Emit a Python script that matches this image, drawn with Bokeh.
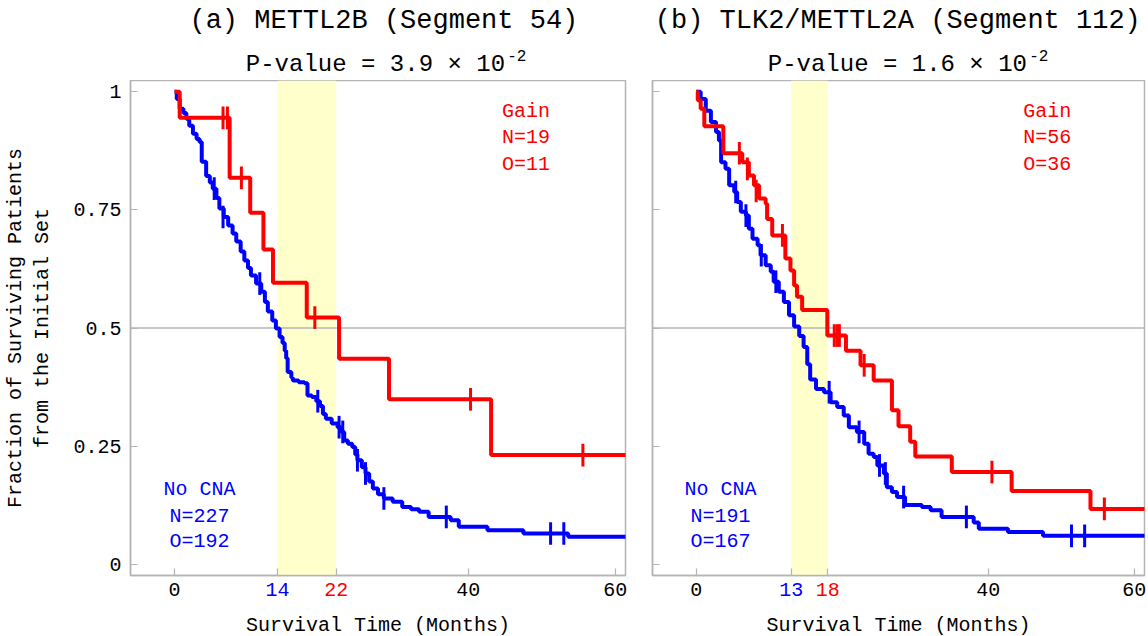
from bokeh.plotting import figure
from bokeh.layouts import row, column
from bokeh.models import Span, BoxAnnotation, FixedTicker
from bokeh.core.properties import value
from bokeh.embed import file_html
from bokeh.resources import INLINE

FONT = "Liberation Mono"
RED = "#ff0000"
BLUE = "#0000ff"
GRAY = "#b4b4b4"

# ---------------- Panel (a) METTL2B (Segment 54) ----------------
a_title = "(a) METTL2B (Segment 54)"
a_pvalue = "P-value = 3.9 × 10"
a_pexp = "-2"
a_band = [14, 22]
a_gain_text = ["Gain", "N=19", "O=11"]
a_nocna_text = ["No CNA", "N=227", "O=192"]

a_gain_t = [0, 0.7, 7.5, 10.3, 12.1, 13.4, 18.0, 22.4, 29.2, 43.1, 62]
a_gain_s = [1.0, 0.945, 0.818, 0.744, 0.666, 0.596, 0.522, 0.435, 0.349, 0.231, 0.231]
a_gain_cens_t = [6.6, 7.2, 9.1, 19.1, 40.3, 55.6]
a_gain_cens_s = [0.945, 0.945, 0.818, 0.522, 0.349, 0.231]

a_none_t = [0, 0.3, 0.7, 1.2, 1.6, 2.0, 2.5, 3.0, 3.4, 3.7, 4.3, 4.8, 5.2, 5.7, 6.1,
            6.7, 7.3, 7.9, 8.4, 9.0, 9.5, 10.0, 10.4, 11.1, 11.8, 12.3, 12.7, 13.3,
            13.8, 14.3, 14.7, 15.0, 15.2, 15.4, 15.9, 16.1, 16.9, 17.7, 18.1, 18.7,
            19.3, 19.8, 20.2, 20.6, 21.4, 22.2, 22.7, 23.1, 23.6, 24.2, 24.6, 24.9,
            25.5, 26.0, 26.5, 27.0, 27.7, 28.5, 29.7, 31.0, 32.2, 33.3, 34.6, 37.6,
            38.7, 42.6, 47.5, 53.6, 62]
a_none_s = [1.0, 0.985, 0.964, 0.955, 0.943, 0.928, 0.911, 0.900, 0.894, 0.852, 0.822,
            0.808, 0.795, 0.775, 0.753, 0.735, 0.717, 0.700, 0.683, 0.662, 0.643, 0.627,
            0.611, 0.594, 0.577, 0.555, 0.535, 0.516, 0.499, 0.481, 0.468, 0.452, 0.436,
            0.407, 0.395, 0.389, 0.385, 0.383, 0.357, 0.354, 0.345, 0.335, 0.318, 0.308,
            0.298, 0.290, 0.280, 0.262, 0.255, 0.248, 0.232, 0.220, 0.205, 0.192, 0.175,
            0.160, 0.148, 0.139, 0.132, 0.121, 0.116, 0.111, 0.100, 0.093, 0.079, 0.072,
            0.065, 0.058, 0.058]
a_none_cens_t = [5.4, 6.6, 11.6, 19.5, 22.4, 22.9, 24.9, 26.0, 28.5, 37.0, 51.2, 53.0]
a_none_cens_s = [0.795, 0.735, 0.594, 0.345, 0.290, 0.280, 0.220, 0.192, 0.139, 0.100, 0.065, 0.065]

# ---------------- Panel (b) TLK2/METTL2A (Segment 112) ----------------
b_title = "(b) TLK2/METTL2A (Segment 112)"
b_pvalue = "P-value = 1.6 × 10"
b_pexp = "-2"
b_band = [13, 18]
b_gain_text = ["Gain", "N=56", "O=36"]
b_nocna_text = ["No CNA", "N=191", "O=167"]

b_gain_t = [0, 0.2, 0.6, 1.1, 3.7, 6.3, 7.2, 7.9, 8.6, 9.5, 9.7, 10.4, 12.2, 12.9, 13.4,
            13.8, 14.5, 17.95, 20.5, 22.5, 24.3, 26.8, 27.7, 29.3, 30.0, 35.0, 43.2, 54.0, 62]
b_gain_s = [1.0, 0.982, 0.964, 0.927, 0.870, 0.851, 0.823, 0.802, 0.774, 0.763, 0.731,
            0.696, 0.647, 0.622, 0.590, 0.566, 0.538, 0.484, 0.452, 0.421, 0.389, 0.326,
            0.292, 0.259, 0.228, 0.195, 0.155, 0.117, 0.117]
b_gain_cens_t = [5.9, 7.0, 8.2, 11.8, 18.9, 19.3, 19.6, 23.0, 40.5, 55.9]
b_gain_cens_s = [0.870, 0.837, 0.790, 0.696, 0.484, 0.484, 0.484, 0.421, 0.195, 0.117]

b_none_t = [0, 0.6, 1.3, 2.0, 2.7, 3.1, 3.4, 4.0, 4.5, 5.2, 5.6, 6.1, 6.8, 7.2, 7.7, 8.4,
            8.8, 9.5, 10.2, 10.6, 11.3, 12.0, 12.7, 13.4, 14.1, 14.7, 15.2, 15.6, 16.4,
            17.5, 18.4, 19.3, 20.2, 20.9, 22.0, 23.0, 23.6, 24.3, 24.8, 25.7, 26.1, 26.8,
            27.5, 28.6, 30.9, 32.1, 33.6, 38.0, 38.7, 42.7, 47.5, 62]
b_none_s = [1.0, 0.985, 0.960, 0.936, 0.915, 0.897, 0.851, 0.837, 0.802, 0.788, 0.767,
            0.746, 0.738, 0.710, 0.689, 0.675, 0.654, 0.633, 0.619, 0.598, 0.577, 0.555,
            0.527, 0.503, 0.483, 0.460, 0.423, 0.391, 0.371, 0.364, 0.343, 0.333, 0.315,
            0.290, 0.280, 0.255, 0.234, 0.227, 0.209, 0.192, 0.163, 0.153, 0.142, 0.125,
            0.121, 0.114, 0.100, 0.088, 0.075, 0.068, 0.060, 0.060]
b_none_cens_t = [5.4, 6.8, 8.9, 10.9, 18.2, 22.3, 25.1, 25.9, 28.4, 37.0, 51.4, 53.2]
b_none_cens_s = [0.788, 0.738, 0.654, 0.598, 0.364, 0.280, 0.209, 0.192, 0.142, 0.100, 0.060, 0.060]

x_ticks = [0, 40, 60]
y_ticks = [0, 0.25, 0.5, 0.75, 1]
y_tick_labels = {0: "0", 0.25: "0.25", 0.5: "0.5", 0.75: "0.75", 1: "1"}
x_label = "Survival Time (Months)"
y_label = "Fraction of Surviving Patients\nfrom the Initial Set"

X_RANGE = (-6, 61.4)
Y_RANGE = (-0.024, 1.024)
CENS_H = 0.024

TOP_H = 80
FRAME_H = 495
MAIN_BOTTOM = 4
TOTAL_H = 636


def strip(width, height, left_px, frame_w):
    """Text-only figure whose frame starts where the main frame starts."""
    k = frame_w / (X_RANGE[1] - X_RANGE[0])
    fw = width - left_px
    f = figure(frame_width=fw, frame_height=height,
               x_range=(X_RANGE[0], X_RANGE[0] + fw / k),
               y_range=(0, height), output_backend="svg", toolbar_location=None,
               x_axis_location=None, y_axis_location=None,
               min_border_left=left_px, min_border_right=0,
               min_border_top=0, min_border_bottom=0)
    f.outline_line_color = None
    f.grid.visible = False
    f.background_fill_color = "white"
    f.border_fill_color = "white"
    return f


def make_panel(width, left_border, frame_w, show_y, title, pvalue, pexp, band,
               gain_text, nocna_text, gt, gs, gct, gcs, nt, ns, nct, ncs,
               gain_x, nocna_x, title_x, p_x):
    right_border = width - left_border - frame_w
    p = figure(frame_width=frame_w, frame_height=FRAME_H, x_range=X_RANGE, y_range=Y_RANGE,
               output_backend="svg", toolbar_location=None,
               min_border_left=left_border, min_border_right=right_border,
               min_border_top=0, min_border_bottom=MAIN_BOTTOM)
    p.background_fill_color = "white"
    p.border_fill_color = "white"
    p.outline_line_color = GRAY
    p.outline_line_width = 1.5
    p.xgrid.visible = False
    p.ygrid.visible = False

    p.xaxis.ticker = FixedTicker(ticks=sorted(x_ticks + band))
    p.xaxis.major_label_overrides = {t: "" for t in sorted(x_ticks + band)}
    p.xaxis.major_label_text_font_size = "0px"
    p.xaxis.major_label_standoff = 0
    p.yaxis.ticker = FixedTicker(ticks=y_ticks)
    if show_y:
        p.yaxis.major_label_overrides = y_tick_labels
        p.yaxis.axis_label = y_label
        p.yaxis.major_label_text_font_size = "20px"
    else:
        p.yaxis.major_label_overrides = {t: "" for t in y_ticks}
        p.yaxis.major_label_text_font_size = "0px"
        p.yaxis.major_label_standoff = 0
    for ax in (p.xaxis[0], p.yaxis[0]):
        ax.axis_line_color = GRAY
        ax.axis_line_width = 1.5
        ax.major_tick_line_color = GRAY
        ax.major_tick_line_width = 1.2
        ax.major_tick_in = 7
        ax.major_tick_out = 0
        ax.minor_tick_line_color = None
        ax.major_label_text_font = FONT
        ax.major_label_text_color = "black"
        ax.axis_label_text_font = FONT
        ax.axis_label_text_font_size = "20px"
        ax.axis_label_text_font_style = "normal"
        ax.axis_label_text_color = "black"
    if show_y:
        p.yaxis.major_label_standoff = 9
        p.yaxis.axis_label_standoff = 16

    p.add_layout(BoxAnnotation(left=band[0], right=band[1], fill_color="#ffffcc",
                               fill_alpha=1.0, line_color=None, level="underlay"))
    p.add_layout(Span(location=0.5, dimension="width", line_color=GRAY,
                      line_width=1.5, level="underlay"))

    p.step(nt, ns, mode="after", line_color=BLUE, line_width=4)
    p.segment(x0=nct, x1=nct, y0=[v - CENS_H for v in ncs], y1=[v + CENS_H for v in ncs],
              line_color=BLUE, line_width=3)
    p.step(gt, gs, mode="after", line_color=RED, line_width=4)
    p.segment(x0=gct, x1=gct, y0=[v - CENS_H for v in gcs], y1=[v + CENS_H for v in gcs],
              line_color=RED, line_width=3)

    p.text(x=[gain_x] * 3, y=[0.958, 0.903, 0.846], text=gain_text, text_color=RED,
           text_font=value(FONT), text_font_size=value("20px"), text_align="left",
           text_baseline="middle")
    p.text(x=[nocna_x] * 3, y=[0.159, 0.101, 0.047], text=nocna_text, text_color=BLUE,
           text_font=value(FONT), text_font_size=value("20px"), text_align="center",
           text_baseline="middle")

    # ---- title strip ----
    mid = (X_RANGE[0] + X_RANGE[1]) / 2
    top = strip(width, TOP_H, left_border, frame_w)
    top.text(x=[title_x], y=[TOP_H - 20], text=[title], text_color="black",
             text_font=value(FONT), text_font_size=value("27px"), text_align="center",
             text_baseline="middle")
    top.text(x=[p_x], y=[TOP_H - 64], text=[pvalue], text_color="black",
             text_font=value(FONT), text_font_size=value("24px"), text_align="right",
             text_baseline="middle")
    top.text(x=[p_x + 0.3], y=[TOP_H - 55], text=[pexp], text_color="black",
             text_font=value(FONT), text_font_size=value("16px"), text_align="left",
             text_baseline="middle")

    # ---- bottom strip: tick labels + axis title ----
    bot_h = TOTAL_H - TOP_H - FRAME_H - MAIN_BOTTOM
    bot = strip(width, bot_h, left_border, frame_w)
    ticks = sorted(x_ticks + band)
    colors = [BLUE if t == band[0] else RED if t == band[1] else "black" for t in ticks]
    bot.text(x=ticks, y=[bot_h - 10] * len(ticks), text=[str(t) for t in ticks],
             text_color=colors, text_font=value(FONT), text_font_size=value("20px"),
             text_align="center", text_baseline="middle")
    bot.text(x=[mid], y=[bot_h - 46], text=[x_label], text_color="black",
             text_font=value(FONT), text_font_size=value("20px"), text_align="center",
             text_baseline="middle")
    return column(top, p, bot, spacing=0)


pa = make_panel(627, 130, 495, True, a_title, a_pvalue, a_pexp, a_band, a_gain_text,
                a_nocna_text, a_gain_t, a_gain_s, a_gain_cens_t, a_gain_cens_s,
                a_none_t, a_none_s, a_none_cens_t, a_none_cens_s, 44.6, 3.4, 28.5, 45.0)
pb = make_panel(521, 25, 492, False, b_title, b_pvalue, b_pexp, b_band, b_gain_text,
                b_nocna_text, b_gain_t, b_gain_s, b_gain_cens_t, b_gain_cens_s,
                b_none_t, b_none_s, b_none_cens_t, b_none_cens_s, 44.8, 3.3, 27.6, 45.3)

layout = row(pa, pb, spacing=0)
open("out.html", "w").write(file_html(layout, INLINE))
